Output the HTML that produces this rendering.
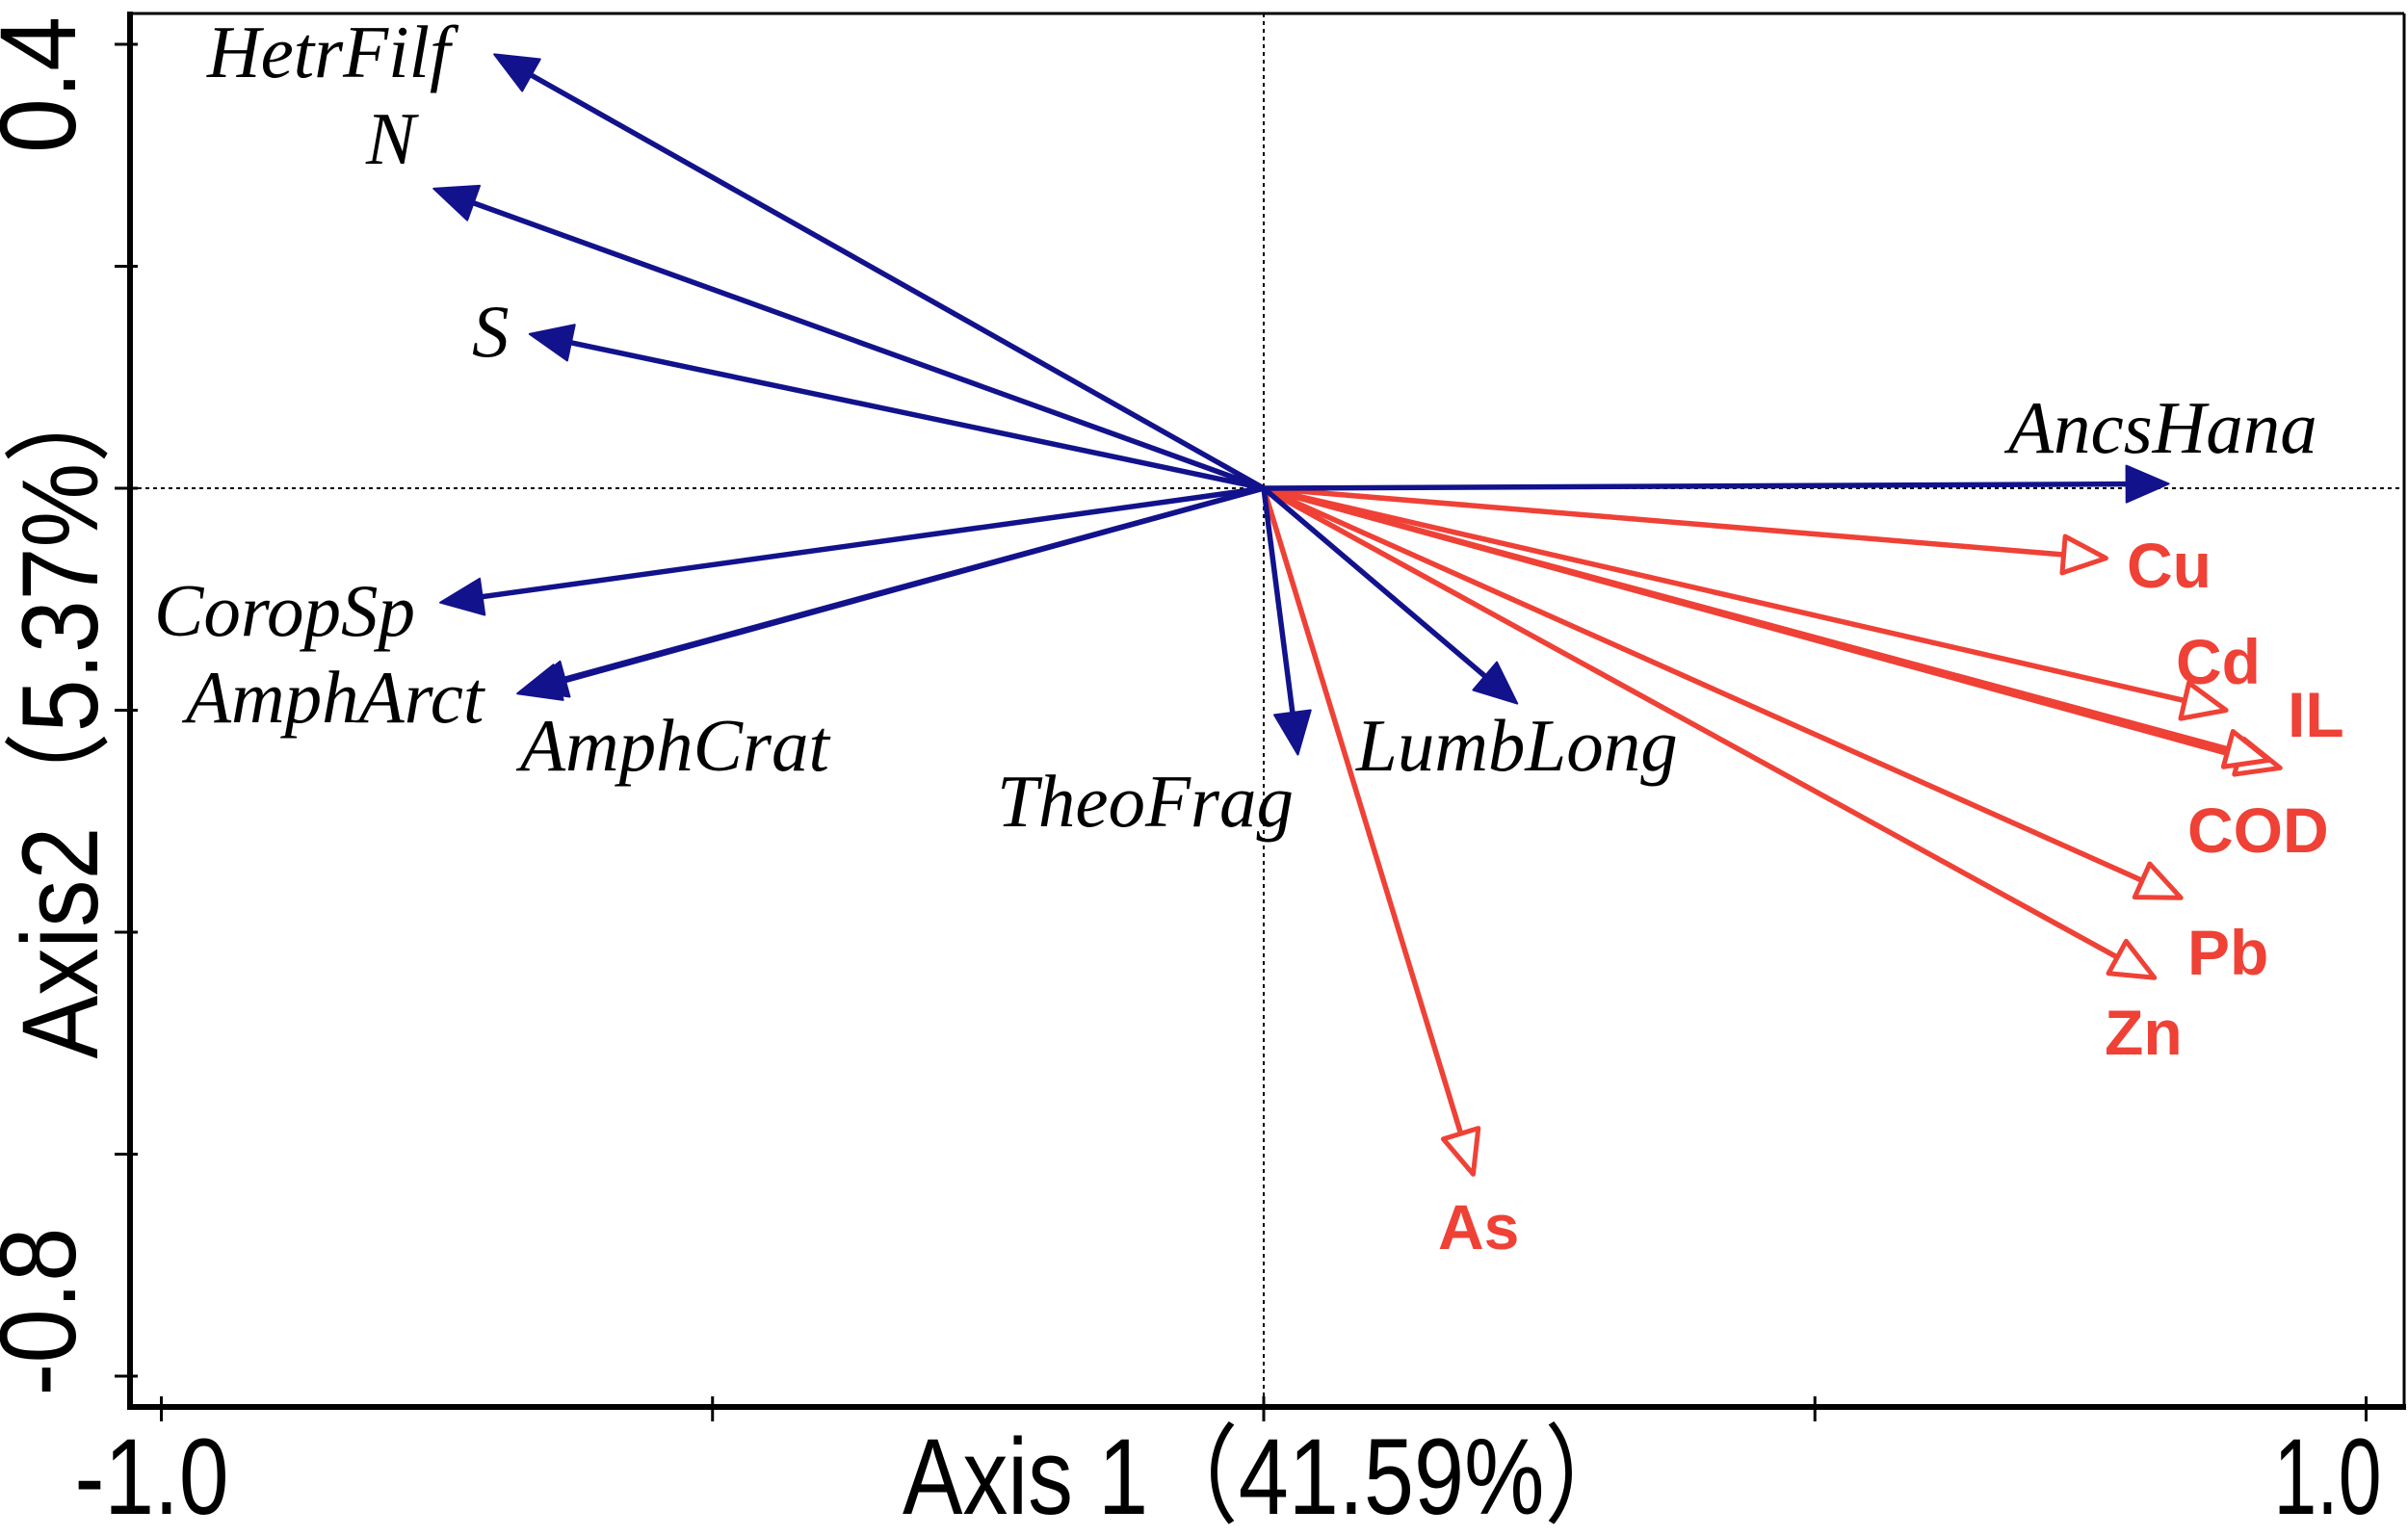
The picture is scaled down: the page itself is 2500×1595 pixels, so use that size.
<!DOCTYPE html>
<html><head><meta charset="utf-8"><style>
html,body{margin:0;padding:0;background:#fff;}
svg{display:block;}
.sp{font-family:"Liberation Serif",serif;font-style:italic;font-size:77px;fill:#000;}
.env{font-family:"Liberation Sans",sans-serif;font-weight:bold;font-size:66px;fill:#ef4136;}
.ax{font-family:"Liberation Sans","Noto Sans CJK SC",sans-serif;font-size:112px;fill:#000;}
</style></head><body>
<svg id="chart" width="2500" height="1595" viewBox="0 0 2500 1595" xmlns="http://www.w3.org/2000/svg">
<g id="frame"></g>
<g id="arrows"></g>
<g id="labels"></g>
</svg>
<script>
const speciesNames = ["HetrFilf","N","S","CoropSp","AmphArct","AmphCrat","TheoFrag","LumbLong","AncsHana"];
const speciesX = [-0.698,-0.753,-0.666,-0.747,-0.677,-0.671,0.031,0.230,0.821];
const speciesY = [0.391,0.270,0.139,-0.103,-0.185,-0.182,-0.240,-0.194,0.004];
const envNames = ["Cu","Cd","IL","COD","Pb","Zn","As"];
const envX = [0.764,0.873,0.922,0.912,0.832,0.808,0.190];
const envY = [-0.063,-0.200,-0.252,-0.245,-0.369,-0.441,-0.618];
const xTicks = [-1.0,-0.5,0,0.5,1.0];
const xTickLabels = ["-1.0","1.0"];
const yTicks = [0.4,0.2,0,-0.2,-0.4,-0.6,-0.8];
const yTickLabels = ["0.4","-0.8"];

const NS="http://www.w3.org/2000/svg";
const sx = v => 1312 + v*1144.5;
const sy = v => 507 - v*1152.5;
function mk(tag, attrs, parent){const e=document.createElementNS(NS,tag);for(const k in attrs)e.setAttribute(k,attrs[k]);parent.appendChild(e);return e;}
const frame=document.getElementById('frame'), arrows=document.getElementById('arrows'), labels=document.getElementById('labels');

let e;
e=mk('line',{x1:135,y1:14,x2:2496,y2:14,stroke:'#000','stroke-width':3},frame);


e=mk('line',{x1:2496,y1:14,x2:2496,y2:1462,stroke:'#000','stroke-width':3},frame);


e=mk('line',{x1:135,y1:12,x2:135,y2:1464,stroke:'#000','stroke-width':6},frame);


e=mk('line',{x1:132,y1:1461,x2:2498,y2:1461,stroke:'#000','stroke-width':6},frame);


e=mk('line',{x1:135,y1:sy(0),x2:2496,y2:sy(0),stroke:'#000','stroke-width':2,'stroke-dasharray':'4,4'},frame);


e=mk('line',{x1:sx(0),y1:14,x2:sx(0),y2:1461,stroke:'#000','stroke-width':2,'stroke-dasharray':'4,4'},frame);


xTicks.forEach(t=>{
  const el=mk('line',{x1:sx(t),y1:1450,x2:sx(t),y2:1476,stroke:'#000','stroke-width':3},frame);
  
  
});
yTicks.forEach(t=>{
  const el=mk('line',{x1:119,y1:sy(t),x2:143,y2:sy(t),stroke:'#000','stroke-width':3},frame);
  
  
});
e=mk('text',{x:sx(-1.0)-10,y:1572,class:'ax','text-anchor':'middle',textLength:160,lengthAdjust:'spacingAndGlyphs'},frame);
e.textContent=xTickLabels[0];


e=mk('text',{x:sx(1.0)-40,y:1572,class:'ax','text-anchor':'middle',textLength:112,lengthAdjust:'spacingAndGlyphs'},frame);
e.textContent=xTickLabels[1];


e=mk('text',{x:937,y:1572,class:'ax',textLength:760,lengthAdjust:'spacingAndGlyphs'},frame);
e.textContent="Axis 1（41.59%）";


e=mk('text',{x:0,y:0,class:'ax','text-anchor':'middle',textLength:142,lengthAdjust:'spacingAndGlyphs',transform:'translate(78,88) rotate(-90)'},frame);
e.textContent=yTickLabels[0];


e=mk('text',{x:0,y:0,class:'ax','text-anchor':'middle',textLength:175,lengthAdjust:'spacingAndGlyphs',transform:'translate(78,1362) rotate(-90)'},frame);
e.textContent=yTickLabels[1];


e=mk('text',{x:0,y:0,class:'ax','text-anchor':'middle',textLength:717,lengthAdjust:'spacingAndGlyphs',transform:'translate(101,741) rotate(-90)'},frame);
e.textContent="Axis2（5.37%）";



function arrow(x,y,color,filled,name){
  const x0=sx(0),y0=sy(0),x1=sx(x),y1=sy(y);
  const dx=x1-x0,dy=y1-y0,L=Math.hypot(dx,dy),ux=dx/L,uy=dy/L;
  const hl=44,hw=19;
  const bx=x1-ux*hl,by=y1-uy*hl;
  const g=mk('g',{},arrows);
  
  
  mk('line',{x1:x0,y1:y0,x2:bx,y2:by,stroke:color,'stroke-width':5.5},g);
  const pts=[[x1,y1],[bx-uy*hw,by+ux*hw],[bx+uy*hw,by-ux*hw]].map(p=>p.join(',')).join(' ');
  mk('polygon',{points:pts,fill:filled?color:'#fff',stroke:color,'stroke-width':filled?2:5,'stroke-linejoin':'round'},g);
}
envNames.forEach((n,i)=>arrow(envX[i],envY[i],'#ef4136',false,n));
speciesNames.forEach((n,i)=>arrow(speciesX[i],speciesY[i],'#12128c',true,n));

const spLabelPos=[[215,80],[380,170],[490,370],[160,660],[193,750],[540,800],[1035,858],[1408,800],[2085,470]];
speciesNames.forEach((n,i)=>{
  const t=mk('text',{x:spLabelPos[i][0],y:spLabelPos[i][1],class:'sp'},labels);
  t.textContent=n;
  
  
});
const envLabelPos=[[2208,610],[2259,710],[2375,765],[2271,885],[2271,1012],[2185,1095],[1493,1297]];
envNames.forEach((n,i)=>{
  const t=mk('text',{x:envLabelPos[i][0],y:envLabelPos[i][1],class:'env'},labels);
  t.textContent=n;
  
  
});
</script>
</body></html>
